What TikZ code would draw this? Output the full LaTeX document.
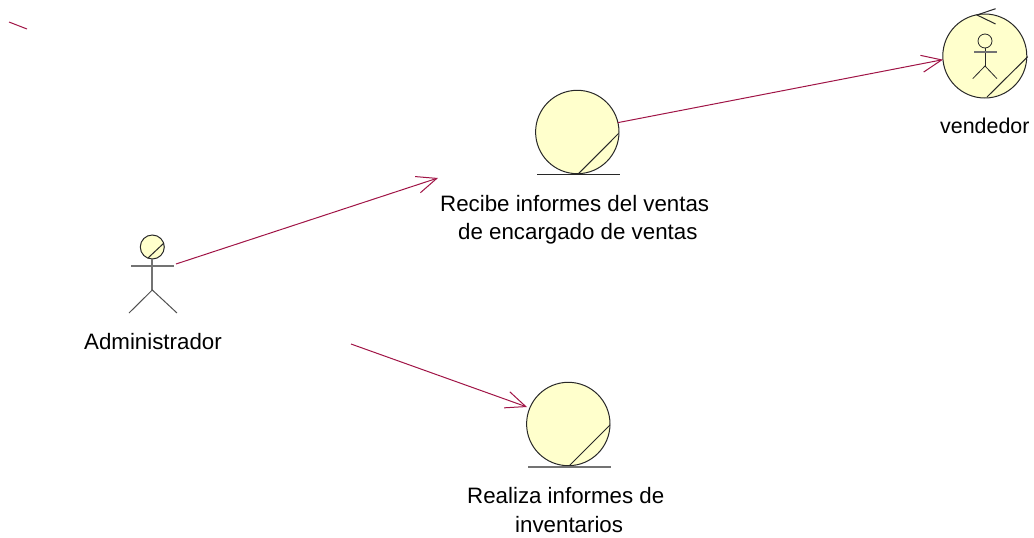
\documentclass[tikz,border=0pt]{standalone}
\usepackage{fontspec}
\setmainfont{Liberation Sans}
\usetikzlibrary{arrows.meta}
\definecolor{wire}{RGB}{160,20,70}
\definecolor{umlfill}{RGB}{255,255,204}
\definecolor{umlline}{RGB}{40,40,40}
\definecolor{umlsoft}{RGB}{115,115,115}
\tikzset{
  x=1pt,y=-1pt,
  ball/.style={circle,draw=umlline,fill=umlfill,line width=1pt,inner sep=0pt,outer sep=0pt,minimum size=#1},
  stroke/.style={draw=umlline,line width=1pt},
  softstroke/.style={draw=umlsoft,line width=1.8pt},
  wirearrow/.style={draw=wire,line width=1pt,-{Straight Barb[length=20pt,width=17pt,line width=1pt]}},
  wireline/.style={draw=wire,line width=1pt},
  lbl/.style={font=\fontsize{22.3pt}{28.3pt}\selectfont,align=left,text=black,inner sep=0pt,anchor=west}
}
\begin{document}
\begin{tikzpicture}
\useasboundingbox (0,0) rectangle (1034,538);
% stray mark
\coordinate (s1) at (9,22);
\coordinate (s2) at (27,29);
\draw[wireline] (s1) -- (s2);
% Administrador actor
\node[ball=24pt] (adm) at (152.3,247) {};
\coordinate (admneck) at (152.3,259);
\coordinate (admhip) at (152.3,290);
\draw[stroke] (148,258) -- (164,243);
\draw[softstroke] (admneck) -- (admhip);
\draw[softstroke] (131,265.7) -- (174,265.7);
\draw[stroke,draw=umlsoft!70!black] (129,313) -- (admhip) -- (177,313);
\node[lbl] (admlbl) at (84,341.5) {Administrador};
% Recibe
\node[ball=83.4pt] (rec) at (577.3,132) {};
\draw[stroke] (rec.south) ++(1.2,0) coordinate (r1) -- (618.5,133.5);
\draw[stroke] (537,174) -- (620,174);
\node[lbl] (reclbl) at (440,220) {Recibe informes del ventas\\\hspace*{18pt}de encargado de ventas};
% Realiza
\node[ball=83.4pt] (rea) at (568.3,424) {};
\draw[stroke] (569,466) -- (610,425);
\draw[softstroke] (528,467) -- (611,467);
\node[lbl] (realbl) at (467,510) {Realiza informes de\\\hspace*{48pt}inventarios};
% vendedor
\node[ball=84pt] (ven) at (984.8,56) {};
\draw[stroke] (987,97) -- (1027.7,56.7);
\draw[stroke] (995.6,8.7) -- (977,15) -- (995.6,24);
\node[circle,draw=umlline,line width=.8pt,minimum size=14pt,inner sep=0pt,outer sep=0pt] (venhead) at (985,41) {};
\coordinate (venhip) at (985,66);
\draw[stroke,line width=.8pt] (venhead) -- (venhip);
\draw[softstroke,line width=1.4pt] (974,52) -- (997,52);
\draw[stroke,line width=.8pt] (972.7,78.7) -- (venhip) -- (997,78.7);
\node[lbl,font=\fontsize{21.4pt}{27pt}\selectfont] (venlbl) at (940,126) {vendedor};
% connectors
\coordinate (a1) at (176,264);
\coordinate (a2) at (438,178);
\coordinate (b1) at (351,344);
\coordinate (b2) at (527,407);
\draw[wirearrow] (a1) -- (a2);
\draw[wirearrow] (b1) -- (b2);
\draw[wirearrow] (rec.13) -- (ven.185);
\end{tikzpicture}
\end{document}
